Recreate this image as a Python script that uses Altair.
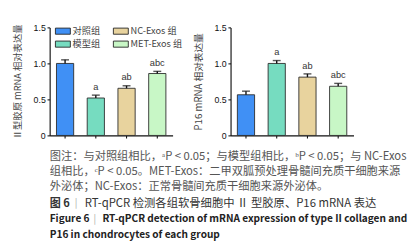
import altair as alt
import pandas as pd

# ---------------- data ----------------
groups = ["对照组", "模型组", "NC-Exos 组", "MET-Exos 组"]
group_colors = ["#4090f5", "#76dcc0", "#e8d39e", "#c8f7c6"]

col2_mean = [1.00, 0.52, 0.655, 0.86]
col2_err = [0.05, 0.04, 0.035, 0.03]
col2_sig = ["", "a", "ab", "abc"]

p16_mean = [0.565, 1.00, 0.81, 0.683]
p16_err = [0.05, 0.04, 0.045, 0.04]
p16_sig = ["", "a", "ab", "abc"]

y_ticks = [0, 0.5, 1.0, 1.5]

caption_lines = [
    "图注：与对照组相比，ᵃP < 0.05；与模型组相比，ᵇP < 0.05；与 NC-Exos",
    "组相比，ᶜP < 0.05。MET-Exos：二甲双胍预处理骨髓间充质干细胞来源",
    "外泌体；NC-Exos：正常骨髓间充质干细胞来源外泌体。",
]
fig_cn = ["图 6", "|", "RT-qPCR 检测各组软骨细胞中 Ⅱ 型胶原、P16 mRNA 表达"]
fig_en = ["Figure 6", "|", "RT-qPCR detection of mRNA expression of type II collagen and",
          "P16 in chondrocytes of each group"]

CJK = "Noto Sans CJK SC"
NUM = "Liberation Sans"
PLOT_W = 140
PLOT_H = 123


def panel(mean, err, sig, title, title_size, show_legend):
    df = pd.DataFrame({
        "group": groups,
        "mean": mean,
        "top": [m + e for m, e in zip(mean, err)],
        "sig": sig,
    })
    xenc = alt.X("group:N", sort=groups,
                 scale=alt.Scale(paddingInner=0.44, paddingOuter=0.22),
                 axis=alt.Axis(labels=False, title=None, ticks=True, tickSize=3,
                               tickColor="#111", domainColor="#111", domainWidth=1.3,
                               tickWidth=1.2, grid=False))
    yscale = alt.Scale(domain=[0, 1.5], nice=False)
    if show_legend:
        legend = alt.Legend(orient="none", legendX=6, legendY=-5, columns=2, title=None,
                            symbolType="M-1,-0.41L1,-0.41L1,0.41L-1,0.41Z", symbolSize=289,
                            symbolStrokeColor="#222", symbolStrokeWidth=1,
                            labelFont=CJK, labelFontSize=10.5, labelColor="#444",
                            labelOffset=2, columnPadding=12, rowPadding=0, padding=0)
    else:
        legend = None
    color = alt.Color("group:N", scale=alt.Scale(domain=groups, range=group_colors),
                      legend=legend)
    base = alt.Chart(df)
    bars = base.mark_bar(stroke="#2a2a2a", strokeWidth=1).encode(
        x=xenc,
        y=alt.Y("mean:Q", scale=yscale,
                axis=alt.Axis(values=y_ticks, grid=False, title=title,
                              labelExpr="datum.value == 0 ? '0' : format(datum.value, '.1f')",
                              labelFont=NUM, labelFontSize=10, labelColor="#111",
                              labelPadding=2, tickSize=3, tickColor="#111", tickWidth=1.2,
                              domainColor="#111", domainWidth=1.3,
                              titleFont=CJK, titleFontSize=title_size,
                              titleFontWeight="normal",
                              titleColor="#444", titlePadding=12)),
        color=color,
    )
    rule = base.mark_rule(color="#111", strokeWidth=1.6).encode(
        x=alt.X("group:N", sort=groups), y="mean:Q", y2="top:Q")
    cap = base.mark_tick(color="#111", thickness=1.6, size=9).encode(
        x=alt.X("group:N", sort=groups), y="top:Q")
    txt = base.mark_text(baseline="alphabetic", dy=-6, font=NUM, fontSize=10.5,
                         color="#333").encode(
        x=alt.X("group:N", sort=groups), y="top:Q", text="sig:N")
    return alt.layer(bars, rule, cap, txt).properties(width=PLOT_W, height=PLOT_H)


left = panel(col2_mean, col2_err, col2_sig, "Ⅱ型胶原 mRNA 相对表达量", 10.6, True)
right = panel(p16_mean, p16_err, p16_sig, "P16 mRNA 相对表达量", 11, False)

top = alt.hconcat(left, right, spacing=13).resolve_scale(color="independent").resolve_legend(
    color="independent")


def tline(text, x, y, size, color, weight="normal"):
    return alt.Chart(pd.DataFrame({"t": [text]})).mark_text(
        align="left", baseline="middle", font=CJK, fontSize=size, color=color,
        fontWeight=weight).encode(text="t:N", x=alt.value(x), y=alt.value(y))


cap_layers = []
for i, line in enumerate(caption_lines):
    cap_layers.append(tline(line, 0, 18.5 + 17.5 * i, 12.8, "#555"))
cap_layers.append(tline(fig_cn[0], 0, 72.5, 12.6, "#333", "bold"))
cap_layers.append(tline(fig_cn[1], 28.5, 72.5, 11, "#aaa"))
cap_layers.append(tline(fig_cn[2], 40, 72.5, 12.9, "#333"))
cap_layers.append(tline(fig_en[0], 0, 91, 11.5, "#222", "bold"))
cap_layers.append(tline(fig_en[1], 50, 91, 11, "#aaa"))
cap_layers.append(tline(fig_en[2], 60, 91, 11.5, "#222", "bold"))
cap_layers.append(tline(fig_en[3], 0, 108.5, 11.5, "#222", "bold"))
caption = alt.layer(*cap_layers).properties(width=380, height=112)

chart = alt.vconcat(top, caption, spacing=0).properties(
    padding={"left": 6.5, "top": 0, "right": 0, "bottom": 0}
).configure_view(stroke=None)

chart.save("out.html", embed_options={"renderer": "svg", "actions": False})
